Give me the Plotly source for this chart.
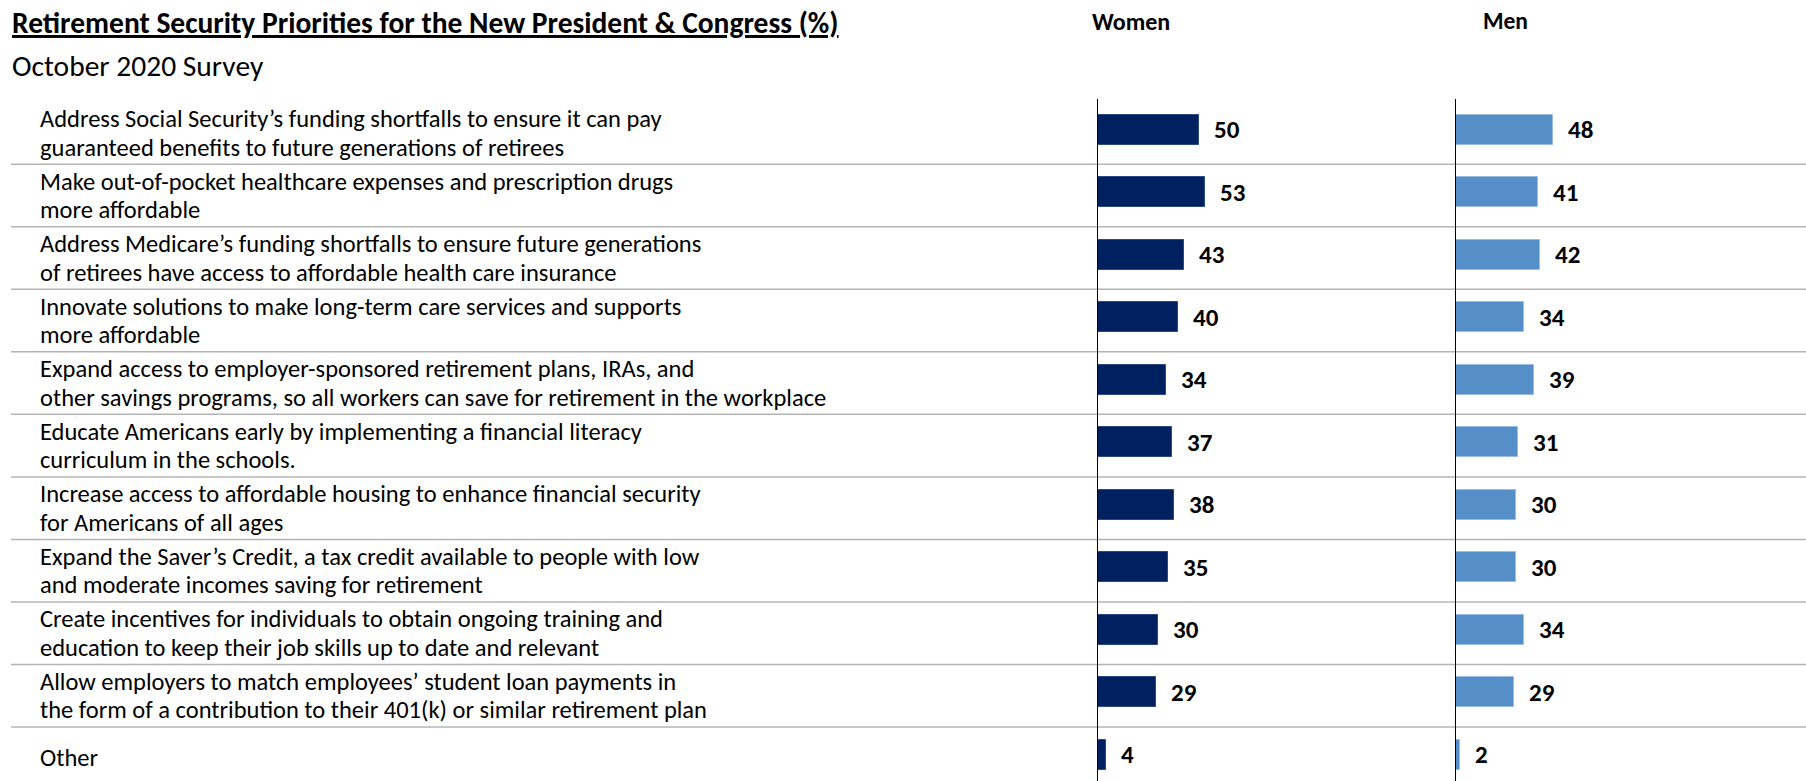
import plotly.graph_objects as go

# ---------------- data ----------------
label_line1 = [
    "Address Social Security’s funding shortfalls to ensure it can pay",
    "Make out-of-pocket healthcare expenses and prescription drugs",
    "Address Medicare’s funding shortfalls to ensure future generations",
    "Innovate solutions to make long-term care services and supports",
    "Expand access to employer-sponsored retirement plans, IRAs, and",
    "Educate Americans early by implementing a financial literacy",
    "Increase access to affordable housing to enhance financial security",
    "Expand the Saver’s Credit, a tax credit available to people with low",
    "Create incentives for individuals to obtain ongoing training and",
    "Allow employers to match employees’ student loan payments in",
    "Other",
]
label_line2 = [
    "guaranteed benefits to future generations of retirees",
    "more affordable",
    "of retirees have access to affordable health care insurance",
    "more affordable",
    "other savings programs, so all workers can save for retirement in the workplace",
    "curriculum in the schools.",
    "for Americans of all ages",
    "and moderate incomes saving for retirement",
    "education to keep their job skills up to date and relevant",
    "the form of a contribution to their 401(k) or similar retirement plan",
    "",
]
categories = [(a + " " + b).strip() for a, b in zip(label_line1, label_line2)]
women = [50, 53, 43, 40, 34, 37, 38, 35, 30, 29, 4]
men = [48, 41, 42, 34, 39, 31, 30, 30, 34, 29, 2]

title_text = "Retirement Security Priorities for the New President & Congress (%)"
subtitle_text = "October 2020 Survey"
series_names = ["Women", "Men"]

# ---------------- style ----------------
W, H = 1806, 781
FONT = "Carlito, Lato, sans-serif"
WOMEN_COLOR = "#002060"
MEN_COLOR = "#568FC8"
SEP_COLOR = "#b4b4b4"
TOP = 99
LABEL_SIZE = 24.5
VALUE_SIZE = 25

def py(p):  # pixel row -> paper y
    return (H - p) / (H - TOP)

fig = go.Figure()
fig.add_trace(go.Bar(y=categories, x=women, orientation="h", width=0.48,
                     marker=dict(color=WOMEN_COLOR, line=dict(width=1, color="#2a4a84")),
                     xaxis="x", yaxis="y", name=series_names[0], showlegend=False,
                     hoverinfo="x"))
fig.add_trace(go.Bar(y=categories, x=men, orientation="h", width=0.48,
                     marker=dict(color=MEN_COLOR, line=dict(width=1, color="#9cbde3")),
                     xaxis="x2", yaxis="y2", name=series_names[1], showlegend=False,
                     hoverinfo="x"))

ann = []
# value labels
for xa, ya, vals in (("x", "y", women), ("x2", "y2", men)):
    for c, v in zip(categories, vals):
        ann.append(dict(x=v, y=c, xref=xa, yref=ya, text="<b>%d</b>" % v,
                        showarrow=False, xanchor="left", yanchor="middle",
                        xshift=13, yshift=0,
                        font=dict(family=FONT, size=VALUE_SIZE, color="#000000")))
# category labels
for c, l1, l2 in zip(categories, label_line1, label_line2):
    if l2:
        ann.append(dict(x=37.5 / W, y=c, xref="paper", yref="y", text=l1,
                        showarrow=False, xanchor="left", yanchor="middle",
                        yshift=10.5, font=dict(family=FONT, size=LABEL_SIZE, color="#000000")))
        ann.append(dict(x=37.5 / W, y=c, xref="paper", yref="y", text=l2,
                        showarrow=False, xanchor="left", yanchor="middle",
                        yshift=-18, font=dict(family=FONT, size=LABEL_SIZE, color="#000000")))
    else:
        ann.append(dict(x=37.5 / W, y=c, xref="paper", yref="y", text=l1,
                        showarrow=False, xanchor="left", yanchor="middle",
                        yshift=-3, font=dict(family=FONT, size=LABEL_SIZE, color="#000000")))
# titles
ann.append(dict(x=9.5 / W, y=py(23), xref="paper", yref="paper",
                text="<b><u>" + title_text + "</u></b>", showarrow=False,
                xanchor="left", yanchor="middle",
                font=dict(family=FONT, size=29.5, color="#000000")))
ann.append(dict(x=9.5 / W, y=py(66), xref="paper", yref="paper",
                text=subtitle_text, showarrow=False,
                xanchor="left", yanchor="middle",
                font=dict(family=FONT, size=29.5, color="#000000")))
ann.append(dict(x=1090 / W, y=py(21), xref="paper", yref="paper",
                text="<b>" + series_names[0] + "</b>", showarrow=False,
                xanchor="left", yanchor="middle",
                font=dict(family=FONT, size=24, color="#000000")))
ann.append(dict(x=1481 / W, y=py(21), xref="paper", yref="paper",
                text="<b>" + series_names[1] + "</b>", showarrow=False,
                xanchor="left", yanchor="middle",
                font=dict(family=FONT, size=23.5, color="#000000")))

# row separators
shapes = []
for i in range(len(categories) - 1):
    shapes.append(dict(type="line", xref="paper", yref="y",
                       x0=11 / W, x1=1, y0=i + 0.555, y1=i + 0.555,
                       line=dict(color=SEP_COLOR, width=1.5), layer="below"))

xa_common = dict(showgrid=False, zeroline=False, showticklabels=False,
                 showline=False, ticks="", fixedrange=True)
ya_common = dict(type="category", categoryorder="array", categoryarray=categories,
                 range=[10.42, -0.49], showgrid=False, zeroline=False,
                 showticklabels=False, ticks="", showline=True,
                 linecolor="#000000", linewidth=1, fixedrange=True)

fig.update_layout(
    width=W, height=H,
    margin=dict(l=0, r=0, t=TOP, b=0),
    paper_bgcolor="white", plot_bgcolor="rgba(0,0,0,0)",
    xaxis=dict(domain=[1098 / W, 0.805], range=[0, 177], anchor="y", **xa_common),
    xaxis2=dict(domain=[1456 / W, 1.0], range=[0, 174], anchor="y2", **xa_common),
    yaxis=dict(anchor="x", **ya_common),
    yaxis2=dict(anchor="x2", **ya_common),
    annotations=ann,
    shapes=shapes,
    bargap=0,
    showlegend=False,
)

fig.write_html("out.html",
               config={"displayModeBar": False},
               post_script="document.body.style.margin='0';document.body.style.overflow='hidden';")
